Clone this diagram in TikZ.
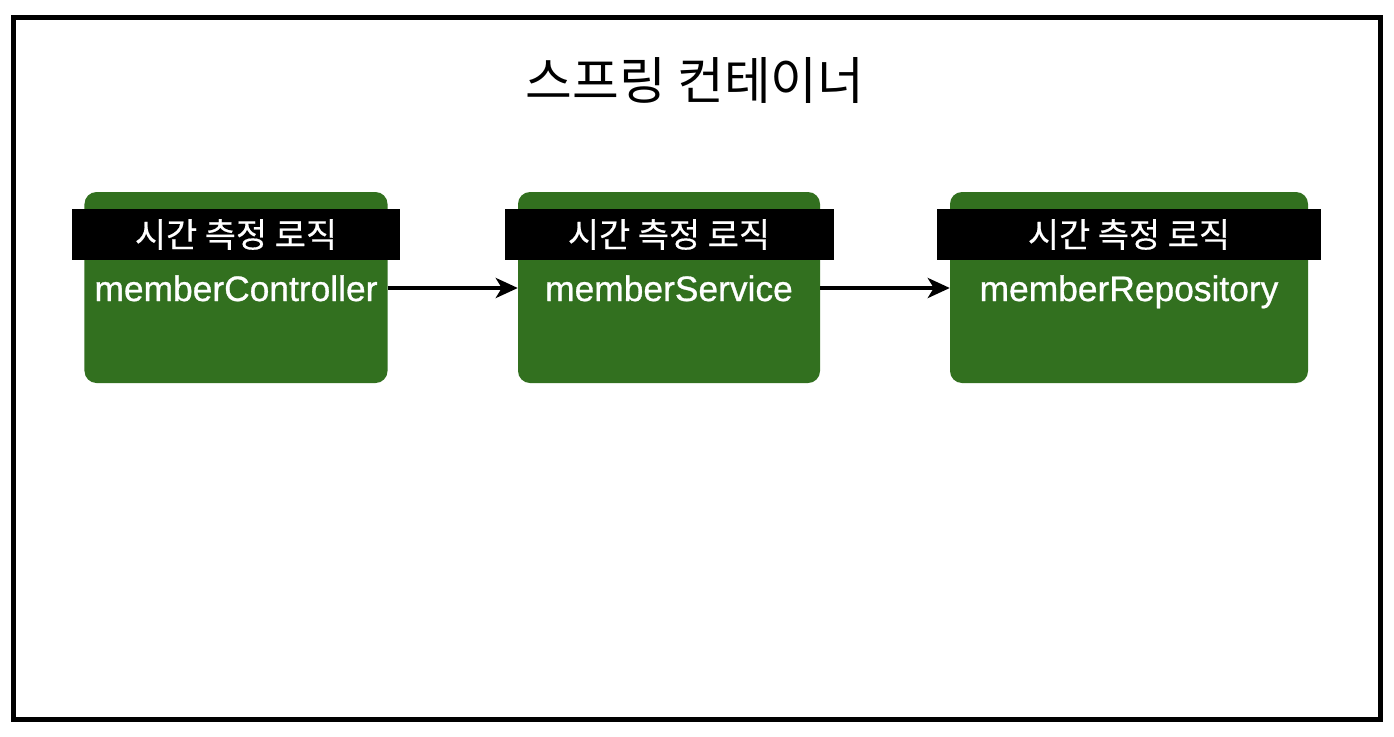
\documentclass[tikz,border=0pt]{standalone}
\usepackage{fontspec}
\setmainfont{Liberation Sans}
\newfontfamily\kr{Noto Sans CJK KR}
\usetikzlibrary{arrows.meta}
\definecolor{beangreen}{RGB}{50,112,31}
\tikzset{
  bean/.style={draw=none, fill=beangreen, rounded corners=12bp, minimum height=191bp, inner sep=0pt},
  aspectbar/.style={fill=black, minimum height=51bp, inner sep=0pt, text=white, font=\kr\addfontfeature{FakeBold=0.4}\fontsize{34}{40}\selectfont},
  beanlabel/.style={text=white, font=\addfontfeature{FakeBold=0.8}\fontsize{35.5}{42}\selectfont, inner sep=0pt, anchor=base},
  flow/.style={line width=4bp, -{Stealth[length=22bp,width=20bp,inset=6bp]}},
}
\begin{document}
\begin{tikzpicture}[x=1bp,y=-1bp]
\useasboundingbox (0,0) rectangle (1394,736);
\fill[white] (0,0) rectangle (1394,736);
\draw[line width=5bp] (13,18) rectangle (1380,719);
\node[font=\kr\fontsize{51}{60}\selectfont] (title) at (695,80) {스프링 컨테이너};
% boxes
\node[bean, minimum width=303bp] (b1) at (236,287.5) {};
\node[bean, minimum width=302bp] (b2) at (669,287.5) {};
\node[bean, minimum width=358bp] (b3) at (1129,287.5) {};
% bars
\node[aspectbar, minimum width=328bp] (a1) at (236,234.5) {시간 측정 로직};
\node[aspectbar, minimum width=329bp] (a2) at (669,234.5) {시간 측정 로직};
\node[aspectbar, minimum width=384bp] (a3) at (1129,234.5) {시간 측정 로직};
% labels
\node[beanlabel] (l1) at (236,301) {memberController};
\node[beanlabel] (l2) at (669,301) {memberService};
\node[beanlabel] (l3) at (1129,301) {memberRepository};
% arrows
\coordinate (y0) at (0,288);
\draw[flow] (y0 -| b1.east) -- (y0 -| b2.west);
\draw[flow] (y0 -| b2.east) -- (y0 -| b3.west);
\end{tikzpicture}
\end{document}
